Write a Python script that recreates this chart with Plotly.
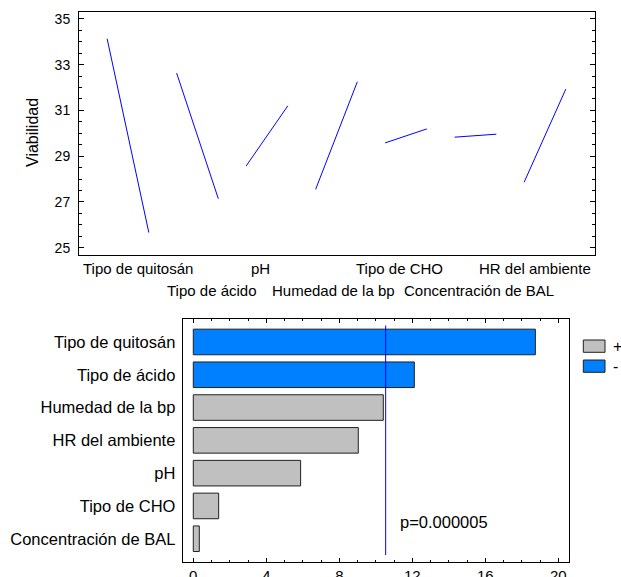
import plotly.graph_objects as go

# ---- data ----
factors = ["Tipo de quitosán", "Tipo de ácido", "pH", "Humedad de la bp",
           "Tipo de CHO", "Concentración de BAL", "HR del ambiente"]
viab_low = [34.13, 32.63, 28.57, 27.55, 29.58, 29.83, 27.86]
viab_high = [25.66, 27.14, 31.20, 32.25, 30.19, 29.96, 31.93]

pareto_cats = ["Tipo de quitosán", "Tipo de ácido", "Humedad de la bp",
               "HR del ambiente", "pH", "Tipo de CHO", "Concentración de BAL"]
pareto_vals = [18.74, 12.11, 10.41, 9.04, 5.88, 1.39, 0.33]
pareto_sign = ["-", "-", "+", "+", "+", "+", "+"]
crit_value = 10.54
p_label = "p=0.000005"

FONT = "Liberation Sans, Arial, sans-serif"
BLUE_LINE = "#0000FF"
BAR_BLUE = "#0080FF"
BAR_GRAY = "#C0C0C0"
W, H = 621, 577

fig = go.Figure()

# ---- main effects plot ----
half = 0.3
xs, ys = [], []
for i, (lo, hi) in enumerate(zip(viab_low, viab_high), start=1):
    xs += [i - half, i + half, None]
    ys += [lo, hi, None]
fig.add_trace(go.Scatter(x=xs, y=ys, mode="lines",
                         line=dict(color=BLUE_LINE, width=1),
                         xaxis="x", yaxis="y", showlegend=False,
                         hoverinfo="skip"))

# ---- pareto chart ----
for sign, color in [("+", BAR_GRAY), ("-", BAR_BLUE)]:
    xv = [v if s == sign else None for v, s in zip(pareto_vals, pareto_sign)]
    fig.add_trace(go.Bar(x=xv, y=pareto_cats, orientation="h", name=sign,
                         marker=dict(color=color,
                                     line=dict(color="#202020", width=1)),
                         width=0.78, xaxis="x2", yaxis="y2",
                         showlegend=False))

def px_x(p):
    return p / W

def px_y(p):
    return 1 - p / H

fig.update_layout(
    width=W, height=H,
    margin=dict(l=0, r=0, t=0, b=0, autoexpand=False),
    paper_bgcolor="white", plot_bgcolor="white",
    font=dict(family=FONT, color="black", size=14),
    barmode="overlay",
    xaxis=dict(domain=[px_x(79), px_x(595)], range=[0.295, 7.72],
               showticklabels=False, ticks="", showgrid=False, zeroline=False,
               showline=True, linecolor="black", linewidth=1, mirror=True,
               automargin=False),
    yaxis=dict(domain=[px_y(255), px_y(12)], range=[24.68, 35.3],
               tick0=25, dtick=2, ticks="inside", ticklen=5, tickcolor="black",
               minor=dict(dtick=0.5, ticks="inside", ticklen=3, tickcolor="black"),
               showgrid=False, zeroline=False,
               showline=True, linecolor="black", linewidth=1, mirror="ticks",
               tickfont=dict(size=14), ticklabelstandoff=5, automargin=False),
    xaxis2=dict(domain=[px_x(182.7), px_x(569.3)], range=[-0.58, 20.6],
                tick0=0, dtick=4, ticks="inside", ticklen=4, tickcolor="black",
                minor=dict(dtick=1, ticks="inside", ticklen=2, tickcolor="black"),
                showgrid=False, zeroline=False,
                showline=True, linecolor="black", linewidth=1, mirror="ticks",
                tickfont=dict(size=15), ticklabelstandoff=0, anchor="y2",
                automargin=False),
    yaxis2=dict(domain=[px_y(561.7), px_y(319)], range=[6.7, -0.7],
                type="category", ticks="", showgrid=False, zeroline=False,
                showline=True, linecolor="black", linewidth=1, mirror=True,
                tickfont=dict(size=16.5), ticklabelstandoff=3, anchor="x2",
                automargin=False),
)

annotations = []
# factor labels for the main effects plot (two staggered rows)
label_x = [1.137, 2.21, 2.91, 3.95, 4.91, 6.05, 6.86]
for k, (name, lx) in enumerate(zip(factors, label_x)):
    row_y = px_y(268) if k % 2 == 0 else px_y(290)
    annotations.append(dict(x=lx, y=row_y, xref="x", yref="paper", text=name,
                            showarrow=False, xanchor="center", yanchor="middle",
                            font=dict(size=15)))
annotations.append(dict(x=px_x(32), y=px_y(133), xref="paper", yref="paper",
                        text="Viabilidad", textangle=-90, showarrow=False,
                        xanchor="center", yanchor="middle", font=dict(size=16)))
annotations.append(dict(x=11.2, y=5.5, xref="x2", yref="y2", text=p_label,
                        showarrow=False, xanchor="left", yanchor="middle",
                        font=dict(size=16.5)))
# legend text
annotations.append(dict(x=px_x(611), y=px_y(346), xref="paper", yref="paper",
                        text="+", showarrow=False, xanchor="left",
                        yanchor="middle", font=dict(size=16)))
annotations.append(dict(x=px_x(611), y=px_y(366), xref="paper", yref="paper",
                        text="-", showarrow=False, xanchor="left",
                        yanchor="middle", font=dict(size=16)))

shapes = [
    dict(type="line", xref="x2", yref="y2", x0=crit_value, x1=crit_value,
         y0=-0.5, y1=6.5, line=dict(color=BLUE_LINE, width=1)),
    dict(type="rect", xref="paper", yref="paper", x0=px_x(583.3), x1=px_x(605),
         y0=px_y(352.3), y1=px_y(340), fillcolor=BAR_GRAY,
         line=dict(color="#202020", width=1)),
    dict(type="rect", xref="paper", yref="paper", x0=px_x(583.3), x1=px_x(605),
         y0=px_y(372.3), y1=px_y(360), fillcolor=BAR_BLUE,
         line=dict(color="#202020", width=1)),
]
fig.update_layout(annotations=annotations, shapes=shapes)

fig.write_html("out.html", config={"displayModeBar": False},
               post_script="document.body.style.margin='0';document.body.style.overflow='hidden';")
